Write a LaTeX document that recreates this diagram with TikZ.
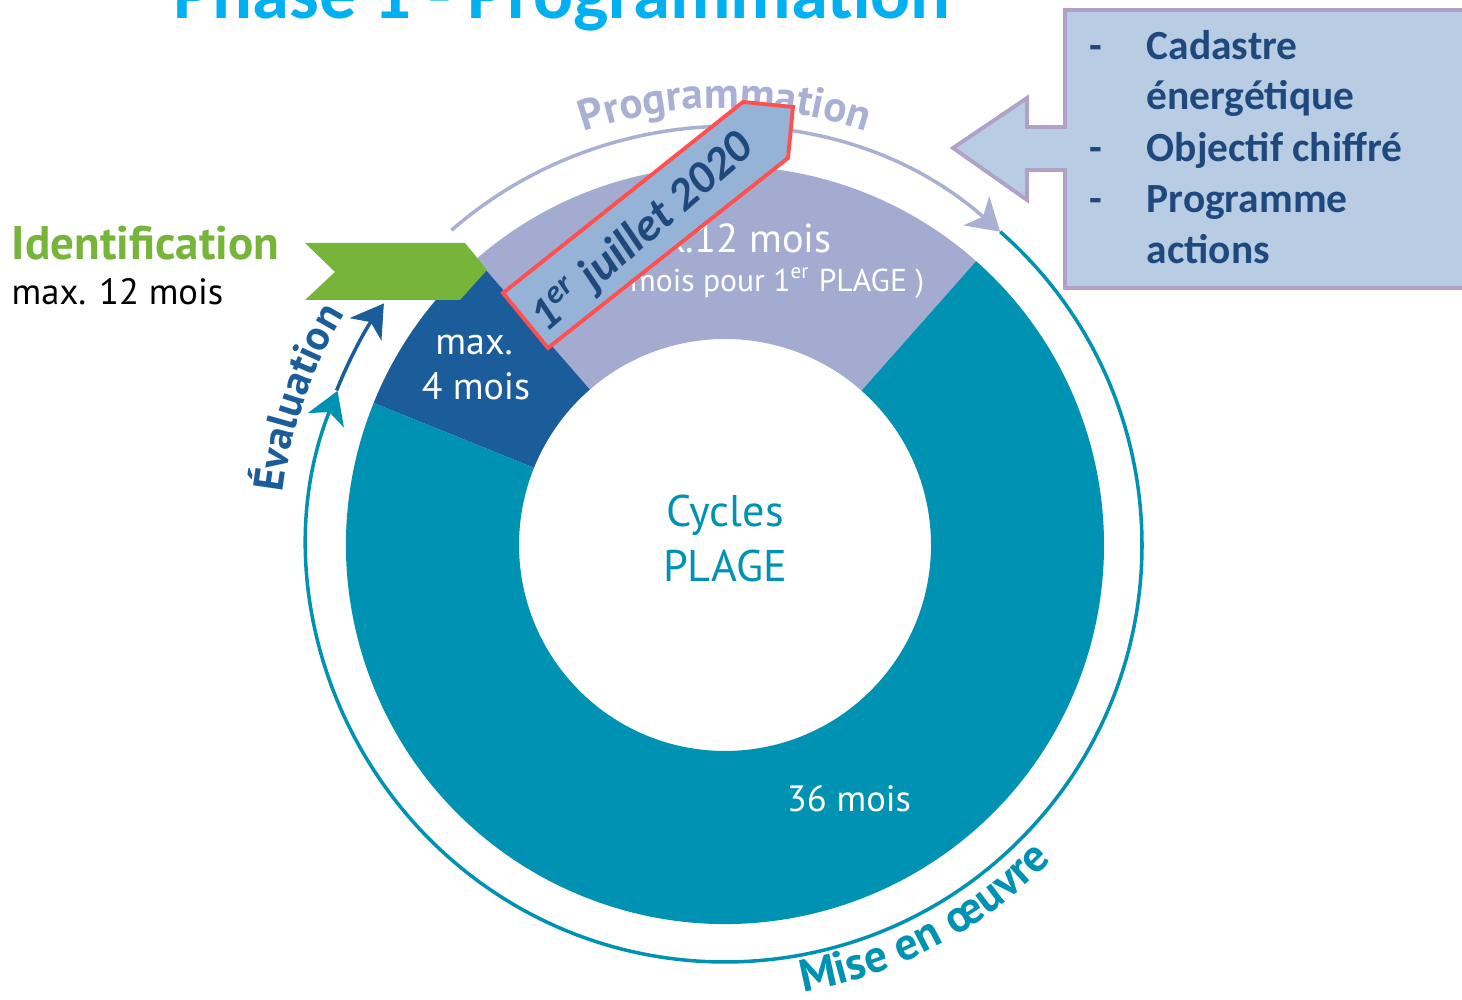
\documentclass[tikz,border=0pt]{standalone}
\usepackage{fontspec}
\setmainfont{PT Sans}
\newfontfamily\calibri{Carlito}
\usepackage{tikz}
\usetikzlibrary{arrows.meta, positioning, calc, decorations.text}
\definecolor{plageTeal}{RGB}{0,146,179}
\definecolor{plageLav}{RGB}{163,172,208}
\definecolor{plageLavLine}{RGB}{170,176,211}
\definecolor{plageDark}{RGB}{27,92,155}
\definecolor{plageGreen}{RGB}{118,181,57}
\definecolor{titleCyan}{RGB}{0,176,240}
\definecolor{boxFill}{RGB}{184,204,228}
\definecolor{boxEdge}{RGB}{178,161,199}
\definecolor{boxText}{RGB}{31,73,125}
\definecolor{ribbonFill}{RGB}{149,179,215}
\definecolor{ribbonEdge}{RGB}{255,80,80}
\tikzstyle{cycleArrow} = [line width=1pt, -{Stealth[length=9pt,width=11pt,inset=2.5pt]}]
\tikzstyle{ringLabel} = [text=white, align=center, inner sep=0pt, anchor=base]
\tikzstyle{boxItem} = [anchor=base west, inner sep=0pt, text=boxText, font=\calibri\bfseries\fontsize{11.8}{14.5}\selectfont]
\tikzset{
	arcText/.style={decorate, decoration={text along path, text align=center, text={#1}}}
}

\begin{document}
\begin{tikzpicture}
\useasboundingbox (0,0) rectangle (14.62,10);
\clip (0,0) rectangle (14.62,10);
\coordinate (hub) at (7.25,4.55);
%----------------------------------------------------------------------------
% Ring sectors
\foreach \startA/\endA/\col in {48.5/131/plageLav, 131/158/plageDark, 158/408.5/plageTeal}
	\fill[\col] ([shift={(\startA:3.79)}]hub) arc[start angle=\startA, end angle=\endA, radius=3.79]
		-- ([shift={(\endA:2.06)}]hub) arc[start angle=\endA, end angle=\startA, radius=2.06] -- cycle;

%----------------------------------------------------------------------------
% Cycle arcs
\draw [cycleArrow, plageLavLine] ([shift={(131:4.17)}]hub) arc[start angle=131, end angle=48.7, radius=4.17];
\draw [cycleArrow, plageTeal] ([shift={(48.7:4.17)}]hub) arc[start angle=48.7, end angle=-201.7, radius=4.17];
\draw [cycleArrow, plageDark] ([shift={(158.3:4.18)}]hub) arc[start angle=158.3, end angle=144.7, radius=4.18];

\path [arcText={|\bfseries\fontsize{12.3}{12.3}\selectfont\color{plageLavLine}|Programmation}] ([shift={(120:4.37)}]hub) arc[start angle=120, end angle=60, radius=4.37];
\path [arcText={|\bfseries\fontsize{12}{12}\selectfont\color{plageDark}|Évaluation}] ([shift={(185:4.45)}]hub) arc[start angle=185, end angle=137, radius=4.45];
\path [arcText={|\bfseries\fontsize{13}{13}\selectfont\color{plageTeal}|Mise en œuvre}] ([shift={(262:4.54)}]hub) arc[start angle=262, end angle=334, radius=4.54];

%----------------------------------------------------------------------------
% Ring labels
\node (cyclesText) [ringLabel, text=plageTeal, font=\fontsize{12.6}{12.6}\selectfont] at (7.25,4.73) {Cycles};
\node (plageText) [ringLabel, text=plageTeal, font=\fontsize{12.6}{12.6}\selectfont] at (7.25,4.18) {PLAGE};
\node (evalMonths) [ringLabel, font=\fontsize{10.8}{12.8}\selectfont] at (4.74,6.45) {max.};
\node (evalMonthsB) [ringLabel, font=\fontsize{10.8}{12.8}\selectfont] at (4.76,6.00) {4 mois};
\node (progMonths) [ringLabel, font=\fontsize{11.5}{11.5}\selectfont] at (7.22,7.47) {max.12 mois};
\node (progFirst) [ringLabel, anchor=base east, font=\fontsize{9}{9}\selectfont] at (9.25,7.08) {( 18 mois pour 1\textsuperscript{er} PLAGE )};
\node (workMonths) [ringLabel, font=\fontsize{10.4}{10.4}\selectfont] at (8.49,1.88) {36 mois};

%----------------------------------------------------------------------------
% Identification
\fill [plageGreen] (3.05,7.57) -- (4.65,7.57) -- (4.87,7.30) -- (4.60,7.00) -- (3.05,7.00) -- (3.35,7.28) -- cycle;
\node (identText) [anchor=base west, inner sep=0pt, text=plageGreen, font=\bfseries\fontsize{13.4}{13.4}\selectfont] at (0.11,7.40) {Identification};
\node (identMonths) [anchor=base west, inner sep=0pt, font=\fontsize{10.4}{10.4}\selectfont] at (0.11,6.95) {max. 12 mois};

%----------------------------------------------------------------------------
% Title and callout
\node (titleText) [anchor=base, inner sep=0pt, text=titleCyan, font=\calibri\bfseries\fontsize{21.2}{21.2}\selectfont] at (5.62,9.81) {Phase 1 - Programmation};

\draw [boxEdge, fill=boxFill, line width=1.1pt] (10.65,9.90) -- (14.80,9.90) -- (14.80,7.12) -- (10.65,7.12) -- (10.65,8.30) -- (10.27,8.30) -- (10.27,8.00) -- (9.53,8.52) -- (10.27,9.02) -- (10.27,8.73) -- (10.65,8.73) -- cycle;
\foreach \dash/\txt/\yy [count=\i] in {-/Cadastre/9.40, /énergétique/8.90, -/Objectif chiffré/8.38, -/Programme/7.87, /actions/7.36}{
	\node (boxDash\i) [boxItem] at (10.89,\yy) {\dash};
	\node (boxItem\i) [boxItem] at (11.46,\yy) {\txt};
}

%----------------------------------------------------------------------------
% Ribbon
\draw [ribbonEdge, fill=ribbonFill, line width=1.1pt] (5.03,7.07) -- (5.48,6.52) -- (7.88,8.42) -- (7.93,8.93) -- (7.43,8.98) -- cycle;
\node (ribbonText) [rotate=41, text=boxText, font=\calibri\bfseries\itshape\fontsize{13.2}{13.2}\selectfont] at (6.43,7.67) {1\textsuperscript{er} juillet 2020};
\end{tikzpicture}
\end{document}
